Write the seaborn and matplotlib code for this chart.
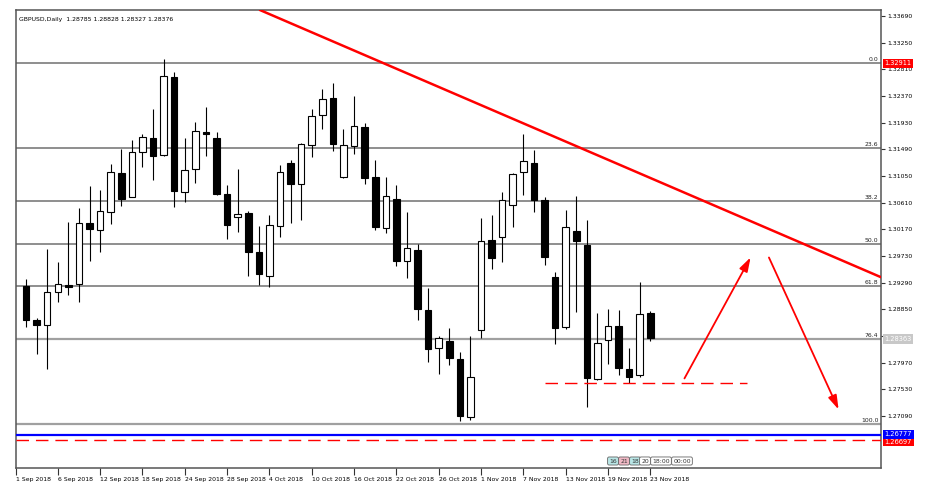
import matplotlib
matplotlib.use("Agg")
import matplotlib.pyplot as plt
import matplotlib.transforms as mtrans
from matplotlib import font_manager
import numpy as np
import pandas as pd
import seaborn as sns

# GBPUSD daily, 3 Sep 2018 .. 23 Nov 2018 (60 trading days)
dates = pd.bdate_range("2018-09-03", "2018-11-23")
opens = [1.29235, 1.28666, 1.28591, 1.29141, 1.29251, 1.29268, 1.30274, 1.30159, 1.30456, 1.31099,
         1.30708, 1.31451, 1.31677, 1.31396, 1.32688, 1.30791, 1.31165, 1.31771, 1.31682, 1.30748,
         1.30378, 1.30435, 1.29791, 1.29405, 1.30230, 1.31269, 1.30913, 1.31561, 1.32056, 1.32332,
         1.31029, 1.31545, 1.31863, 1.31029, 1.30187, 1.30670, 1.29652, 1.29829, 1.28839, 1.28207,
         1.28327, 1.28026, 1.27078, 1.28509, 1.29994, 1.30048, 1.30571, 1.31111, 1.31260, 1.30654,
         1.29379, 1.28554, 1.30142, 1.29911, 1.27696, 1.28344, 1.28575, 1.27861, 1.27766, 1.28785]
highs = [1.29350, 1.28707, 1.29845, 1.29631, 1.30291, 1.30522, 1.30885, 1.30819, 1.31248, 1.31495,
         1.31644, 1.31743, 1.32155, 1.32976, 1.32771, 1.31677, 1.31941, 1.32188, 1.31781, 1.30901,
         1.31165, 1.30477, 1.30230, 1.30406, 1.31231, 1.31314, 1.31599, 1.32151, 1.32481, 1.32580,
         1.31821, 1.32370, 1.31929, 1.31314, 1.31038, 1.30901, 1.30451, 1.29923, 1.29197, 1.28410,
         1.28537, 1.28151, 1.28410, 1.30362, 1.30406, 1.30791, 1.31104, 1.31743, 1.31479, 1.30700,
         1.29471, 1.30489, 1.30720, 1.30324, 1.28785, 1.28855, 1.28839, 1.28207, 1.29296, 1.28828]
lows = [1.28558, 1.28113, 1.27865, 1.28971, 1.29086, 1.28971, 1.29647, 1.29796, 1.30258, 1.30555,
        1.30703, 1.31198, 1.30984, 1.31380, 1.30543, 1.30626, 1.30939, 1.31385, 1.30736, 1.30010,
        1.30131, 1.29400, 1.29251, 1.29214, 1.30048, 1.30279, 1.30324, 1.31359, 1.31821, 1.31462,
        1.31020, 1.31413, 1.30913, 1.30159, 1.30114, 1.29570, 1.29362, 1.28674, 1.27986, 1.27783,
        1.27931, 1.27007, 1.27024, 1.28372, 1.29515, 1.29636, 1.30213, 1.30736, 1.30461, 1.29581,
        1.28278, 1.28521, 1.28811, 1.27243, 1.27684, 1.27943, 1.27766, 1.27630, 1.27729, 1.28327]
closes = [1.28674, 1.28591, 1.29141, 1.29273, 1.29218, 1.30274, 1.30175, 1.30472, 1.31116, 1.30670,
          1.31451, 1.31693, 1.31380, 1.32705, 1.30802, 1.31149, 1.31792, 1.31738, 1.30748, 1.30241,
          1.30428, 1.29801, 1.29428, 1.30241, 1.31121, 1.30913, 1.31578, 1.32040, 1.32316, 1.31573,
          1.31561, 1.31875, 1.31012, 1.30213, 1.30725, 1.29652, 1.29857, 1.28851, 1.28200, 1.28372,
          1.28042, 1.27090, 1.27729, 1.29982, 1.29692, 1.30654, 1.31083, 1.31302, 1.30654, 1.29718,
          1.28537, 1.30213, 1.29982, 1.27712, 1.28299, 1.28575, 1.27877, 1.27738, 1.28773, 1.28376]

header = "GBPUSD,Daily  1.28785 1.28828 1.28327 1.28376"

# fibonacci retracement
fib_high = 1.32911
fib_low = 1.26950
fib_pct = [0.0, 23.6, 38.2, 50.0, 61.8, 76.4, 100.0]

# drawn objects
trend_x = [22.1, 80.8]
trend_y = [1.33789, 1.29380]
support_x = [49.05, 68.1]
support_y = 1.27629
arrow_up = [(62.1, 1.27670), (68.6, 1.29747)]
arrow_down = [(70.1, 1.29747), (76.9, 1.27156)]
blue_level = 1.26777
red_level = 1.26697
bid_level = 1.28363

yticks = [1.27090 + 0.0044 * k for k in range(16)]
hidden_ytick = 1.28410  # sits under the bid price tag
xtick_idx = [3, 7, 11, 15, 19, 23, 27, 31, 35, 39, 43, 47, 51, 55, 59]

sessions = ["16", "21", "18", "20", "18:00", "00:00"]
session_colors = ["#b9e6e6", "#efb8c4", "#b9e6e6", "#ffffff", "#ffffff", "#ffffff"]
session_px = [613, 624, 635, 645, 661, 682]

sns.set_theme(style="white")
installed = {f.name for f in font_manager.fontManager.ttflist}
if "Liberation Sans Narrow" in installed:
    small_font, fs = "Liberation Sans Narrow", 5.4
elif "DejaVu Sans Condensed" in installed:
    small_font, fs = "DejaVu Sans Condensed", 4.7
else:
    small_font, fs = "DejaVu Sans", 4.4
plt.rcParams["font.family"] = [small_font, "DejaVu Sans"]

W, H = 926, 498
fig = plt.figure(figsize=(W / 100, H / 100), dpi=100)
ax = fig.add_axes([16 / W, 1 - 468 / H, (881 - 16) / W, (468 - 10) / H])
ax.set_facecolor("white")

x = np.arange(len(dates))
o = np.array(opens)
c = np.array(closes)

# fib lines
bt = mtrans.blended_transform_factory(ax.transAxes, ax.transData)
rng = fib_high - fib_low
for p in fib_pct:
    lvl = fib_high - p / 100 * rng
    lw = 1.6 if p in (76.4, 100.0) else 1.1
    col = "#a0a0a0" if p in (76.4, 100.0) else "#707070"
    ax.axhline(lvl, color=col, lw=lw, zorder=1)
    ax.text(0.997, lvl + 0.0002, f"{p:.1f}", transform=bt,
            ha="right", va="bottom", fontsize=fs, color="#222222")

# candles
ax.vlines(x, lows, highs, color="black", lw=0.8, zorder=2)
ax.bar(x, c - o, bottom=o, width=0.62, color=np.where(c >= o, "white", "black"),
       edgecolor="black", linewidth=0.8, zorder=3)

# trendline & drawings
sns.lineplot(x=trend_x, y=trend_y, color="#ff0000", lw=1.8, ax=ax, zorder=4)
ax.hlines(support_y, support_x[0], support_x[1], color="#ff0000", lw=1.0, linestyles=(0, (9, 5)), zorder=4)
for a in (arrow_up, arrow_down):
    ax.annotate("", xy=a[1], xytext=a[0],
                arrowprops=dict(arrowstyle="-|>,head_length=0.7,head_width=0.22", color="#ff0000", lw=1.3),
                zorder=4)

ax.axhline(red_level, color="#ff0000", lw=1.0, ls=(0, (9, 5)), zorder=4)
ax.axhline(blue_level, color="#0000ff", lw=1.6, zorder=4)

ax.set_xlim(-0.95, 80.8)
ax.set_ylim(1.26232, 1.33789)

# axes ticks
ax.yaxis.tick_right()
ax.set_yticks(yticks)
ax.set_yticklabels(["" if abs(v - hidden_ytick) < 1e-6 else f"{v:.5f}" for v in yticks])
ax.set_xticks([-0.95] + xtick_idx)
ax.set_xticklabels(["1 Sep 2018"] + [f"{dates[i].day} {dates[i]:%b %Y}" for i in xtick_idx])
for lab in ax.get_xticklabels():
    lab.set_ha("left")
ax.tick_params(axis="y", direction="out", length=3, width=0.8, pad=1.5, labelsize=fs,
               colors="#333333", labelcolor="black", right=True)
ax.tick_params(axis="x", direction="out", length=5, width=0.8, pad=1.5, labelsize=fs,
               colors="#333333", labelcolor="black", bottom=True)
for s in ax.spines.values():
    s.set_color("#555555")
    s.set_linewidth(1.1)

# price tags on the right scale
tags = [(fib_high, 0, "#ff0000"), (bid_level, 0, "#c8c8c8"),
        (red_level, -0.0003, "#ff0000"), (blue_level, 0.0001, "#0000ff")]
for lvl, shift, fc in tags:
    ax.text(1.004, lvl + shift, f"{lvl:.5f}", transform=bt, ha="left", va="center", fontsize=fs + 0.4,
            color="white", bbox=dict(boxstyle="square,pad=0.25", fc=fc, ec="none"),
            clip_on=False, zorder=6)

ax.text(0.004, 0.985, header, transform=ax.transAxes, ha="left", va="top", fontsize=fs, color="black")

# session markers at bottom
for lab, fc, px in zip(sessions, session_colors, session_px):
    fig.text(px / W, 1 - 461 / H, lab, ha="center", va="center", fontsize=fs, color="#333333",
             bbox=dict(boxstyle="round,pad=0.25", fc=fc, ec="#666666", lw=0.6))

fig.savefig("out.png", dpi=100, facecolor="white")
